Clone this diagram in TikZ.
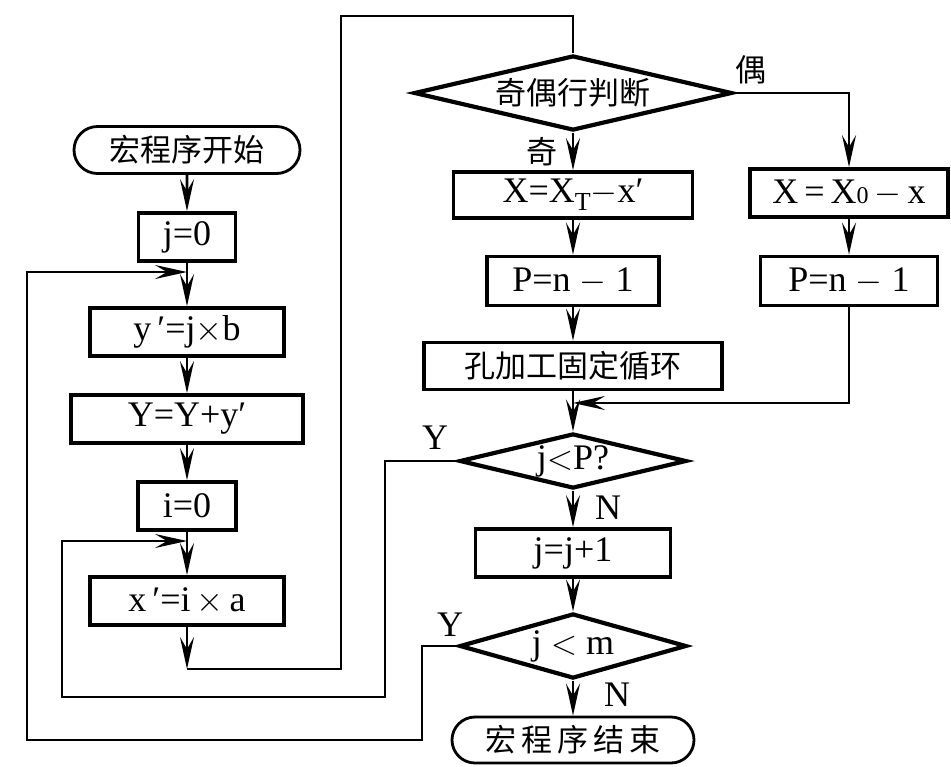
\documentclass[tikz,border=0pt]{standalone}
\usepackage{fontspec}
\setmainfont{Liberation Serif}
\newfontfamily\cjk{Noto Sans CJK SC}
\usetikzlibrary{arrows.meta,graphs,shapes.geometric,shapes.misc}

\tikzset{
  box/.style={draw,line width=1.9pt,inner sep=0pt,minimum height=24pt},
  decision/.style={draw,diamond,aspect=4,line width=2.1pt,inner sep=0pt},
  terminal/.style={draw,rounded rectangle,line width=1.4pt,inner sep=0pt,minimum height=23.5pt},
  zh/.style={font=\cjk\fontsize{15.5}{17}\selectfont},
}

\begin{document}
\begin{tikzpicture}[x=0.5pt,y=-0.5pt,line width=1.3pt,
    >={Stealth[length=16pt,width=7pt,inset=6pt]},
    font=\fontsize{18}{20}\selectfont]
  \useasboundingbox (0,0) rectangle (951,766);
    \node[terminal,zh,minimum width=113pt] (start) at (187,150) {宏程序开始};
    \node[box,minimum width=48.5pt] (j0) at (187,237) {j=0};
    \node[box,minimum width=97pt] (yb) at (187,332) {y\,′=j$\times$b};
    \node[box,minimum width=116pt] (YY) at (187,419) {Y=Y+y′};
    \node[box,minimum width=49pt] (i0) at (187,506) {i=0};
    \node[box,minimum width=97pt] (xa) at (187,601) {x\,′=i\,$\times$\,a};
    \coordinate (xaend) at (187,669);
    \coordinate (m1) at (187,272);
    \coordinate (m2) at (187,541);
    \coordinate (backtop) at (341,16);
    % right part
    \node[decision,zh,minimum width=159pt,minimum height=37.5pt] (oddeven) at (573,93) {奇偶行判断};
    \node[box,minimum width=119.5pt,minimum height=23pt] (XT) at (573,195) {X=X\raisebox{-4pt}{\fontsize{13}{13}\selectfont T}$-$x′};
    \node[box,minimum width=86pt,minimum height=24.5pt] (Pl) at (573,281) {P=n $-$ 1};
    \node[box,zh,minimum width=149pt,minimum height=23.5pt] (hole) at (573,366) {孔加工固定循环};
    \node[box,minimum width=99pt] (X0) at (849,193) {X\,=\,X{\fontsize{12}{12}\selectfont 0}\,$-$\,x};
    \node[box,minimum width=88.5pt,minimum height=24.5pt] (Pr) at (849,281) {P=n $-$ 1};
    \coordinate (join) at (573,403);
    \node[decision,minimum width=113.5pt,minimum height=27.5pt] (jP) at (573,461) {j$<$P?};
    \node[box,minimum width=97.5pt] (jj) at (573,553) {j=j+1};
    \node[decision,minimum width=113.5pt,minimum height=32.5pt] (jm) at (573,646) {j $<$ m};
    \node[terminal,zh,minimum width=121pt,minimum height=23pt] (finish) at (573,740) {宏\,程\,序\,结\,束};
    \coordinate (innerdown) at (385,697);
    \coordinate (innerleft) at (62,697);
    \coordinate (outerdown) at (422,740);
    \coordinate (outerleft) at (27,740);
    % branch labels
    \node[zh] (even) at (751,70) {偶};
    \node[zh] (odd) at (542,152) {奇};
    \node (yes1) at (435,438) {Y};
    \node (no1) at (608,508) {N};
    \node (yes2) at (450,625) {Y};
    \node (no2) at (617,695) {N};
  \graph[use existing nodes] {
    start -> j0 -> yb -> YY -> i0 -> xa -> xaend;
    oddeven -> XT -> Pl -> hole -> jP -> jj -> jm -> finish;
    X0 -> Pr;
  };
    \draw (xaend) -| (backtop) -| (oddeven.north);
    \draw[->] (oddeven.east) -| (X0.north);
    \draw[->] (Pr.south) |- (join);
    \draw[->] (jP.west) -| (innerdown) -- (innerleft) |- (m2);
    \draw[->] (jm.west) -| (outerdown) -- (outerleft) |- (m1);
\end{tikzpicture}
\end{document}
